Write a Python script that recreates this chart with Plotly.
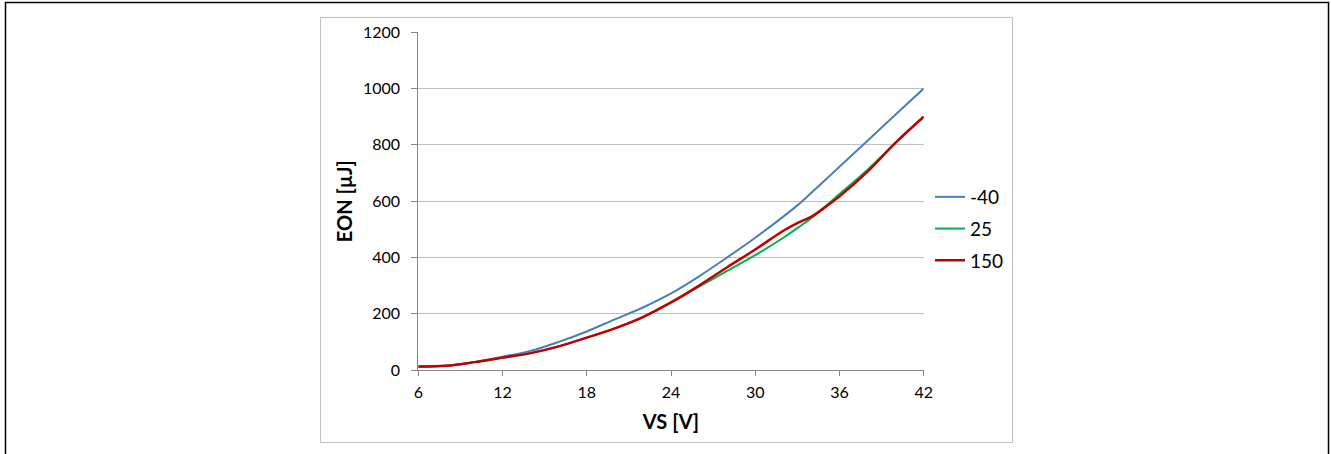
import plotly.graph_objs as go

W, H = 1331, 454

# data
vs = [6, 8, 10, 12, 14, 16, 18, 20, 22, 24, 26, 28, 30, 32, 33, 34, 35, 36, 38, 40, 42]
eon_m40 = [12, 15, 28, 47, 68, 100, 137, 180, 222, 272, 333, 400, 470, 545, 585, 630, 676, 722, 815, 908, 1000]
eon_25 = [12, 15, 28, 44, 60, 84, 115, 148, 188, 240, 296, 352, 408, 470, 504, 540, 582, 625, 712, 808, 900]
eon_150 = [12, 15, 28, 44, 60, 84, 115, 148, 188, 240, 300, 365, 428, 495, 522, 545, 579, 617, 705, 808, 900]

series = [
    ("-40", eon_m40, "#4A7EBB", 2),
    ("25", eon_25, "#00B050", 2),
    ("150", eon_150, "#C00000", 2.5),
]

x_ticks = [6, 12, 18, 24, 30, 36, 42]
y_ticks = [0, 200, 400, 600, 800, 1000, 1200]

FONT = "Lato, 'Open Sans', sans-serif"


def px_x(v):
    return v / W


def px_y(v):
    return 1 - v / H


fig = go.Figure()

for name, y, color, width in series:
    fig.add_trace(go.Scatter(
        x=vs,
        y=y,
        mode='lines',
        name=name,
        legendgroup=name,
        line=dict(color=color, width=width, shape='spline', smoothing=1)
    ))

fig.update_layout(
    width=W,
    height=H,
    plot_bgcolor='white',
    paper_bgcolor='white',
    margin=dict(l=0, r=0, t=0, b=0, autoexpand=False),
    font=dict(family=FONT, color='black'),
    xaxis=dict(
        domain=[px_x(418.3), px_x(923.7)],
        range=[6, 42],
        tickvals=x_ticks,
        showgrid=False,
        zeroline=False,
        showline=True,
        linecolor='#868686',
        linewidth=1,
        ticks='outside',
        ticklen=5,
        tickcolor='#868686',
        tickfont=dict(size=16),
        ticklabelstandoff=3,
        title=dict(text='<b>VS [V]</b>', font=dict(size=20), standoff=14),
    ),
    yaxis=dict(
        domain=[px_y(370), px_y(32.3)],
        range=[0, 1200],
        tickvals=y_ticks,
        showgrid=True,
        gridcolor='#BFBFBF',
        gridwidth=1,
        zeroline=False,
        showline=True,
        linecolor='#868686',
        linewidth=1,
        ticks='outside',
        ticklen=6,
        tickcolor='#868686',
        tickfont=dict(size=16),
        ticklabelstandoff=8,
        title=dict(text='<b>EON [µJ]</b>', font=dict(size=20), standoff=4),
    ),
    legend=dict(
        x=px_x(930),
        y=px_y(178),
        xanchor='left',
        yanchor='top',
        font=dict(size=19),
        itemwidth=30,
        traceorder='grouped',
        tracegroupgap=4,
        bgcolor='rgba(0,0,0,0)',
    ),
    shapes=[
        # outer black frame
        dict(type='rect', xref='paper', yref='paper',
             x0=px_x(5.5), x1=px_x(1328.5), y0=-0.05, y1=px_y(2.5),
             line=dict(color='black', width=1.5)),
        # chart area frame
        dict(type='rect', xref='paper', yref='paper',
             x0=px_x(320.5), x1=px_x(1012.5), y0=px_y(442.5), y1=px_y(17.5),
             line=dict(color='#BFBFBF', width=1)),
    ],
)

fig.write_html("out.html", config={'displayModeBar': False},
               post_script="document.body.style.margin='0';")
